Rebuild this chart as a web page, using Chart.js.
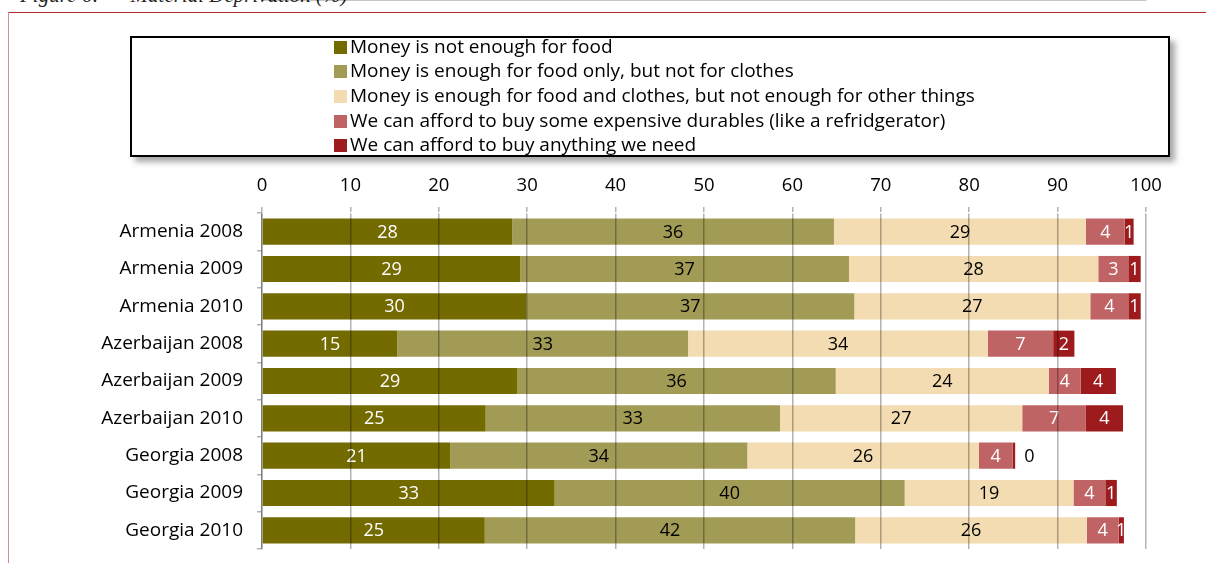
<!DOCTYPE html>
<html>
<head>
<meta charset="utf-8">
<script src="https://cdn.jsdelivr.net/npm/chart.js@4.4.1/dist/chart.umd.min.js"></script>
<style>
  body { margin: 0; width: 1206px; height: 563px; overflow: hidden; background: #fff; position: relative; font-family: "Open Sans", sans-serif; }
  #title { position: absolute; left: 20px; top: -17px; font: italic 21px "Liberation Serif", serif; color: #222; white-space: pre; }
  #frameTop { position: absolute; left: 8px; top: 12px; right: 0; border-top: 1.5px solid #b52a2c; }
  #frameLeft { position: absolute; left: 8px; top: 12px; bottom: 0; border-left: 1.5px solid #d58c8c; }
  #legend { position: absolute; left: 130px; top: 36px; width: 1036px; height: 117px; border: 2px solid #000; box-shadow: 5px 5px 6px rgba(0,0,0,.35); background: #fff; z-index: 2; }
  #legend div { position: absolute; left: 202px; height: 24px; line-height: 24px; font-size: 19px; color: #000; white-space: nowrap; }
  #legend span { display: inline-block; width: 13px; height: 13px; margin-right: 3px; vertical-align: -1px; }
  #chart { position: absolute; left: 0; top: 0; }
</style>
</head>
<body>
<div id="title">Figure 6:      Material Deprivation (%)</div>
<div id="frameTop"></div>
<div id="frameLeft"></div>
<div id="legend"></div>
<canvas id="chart" width="1206" height="563"></canvas>
<script>
const categories = ["Armenia 2008", "Armenia 2009", "Armenia 2010", "Azerbaijan 2008", "Azerbaijan 2009",
  "Azerbaijan 2010", "Georgia 2008", "Georgia 2009", "Georgia 2010"];

const seriesNames = [
  "Money is not enough for food",
  "Money is enough for food only, but not for clothes",
  "Money is enough for food and clothes, but not enough for other things",
  "We can afford to buy some expensive durables (like a refridgerator)",
  "We can afford to buy anything we need"
];

const notEnoughFood = [28.3, 29.2, 29.9, 15.3, 28.9, 25.3, 21.3, 33.1, 25.2];
const foodOnly = [36.4, 37.2, 37.1, 32.9, 36.0, 33.3, 33.6, 39.6, 41.9];
const foodAndClothes = [28.5, 28.2, 26.7, 33.9, 24.1, 27.4, 26.2, 19.1, 26.2];
const durables = [4.4, 3.4, 4.3, 7.4, 3.6, 7.2, 3.8, 3.6, 3.6];
const anything = [1.0, 1.4, 1.4, 2.4, 4.0, 4.2, 0.3, 1.3, 0.6];

const xTicks = [0, 10, 20, 30, 40, 50, 60, 70, 80, 90, 100];

const colors = ["#736a00", "#a29b56", "#f3dcb1", "#bf6365", "#9d1a1d"];
const labelColors = ["#fff", "#000", "#000", "#fff", "#fff"];
const allSeries = [notEnoughFood, foodOnly, foodAndClothes, durables, anything];

// legend box as html
const legend = document.getElementById("legend");
seriesNames.forEach((name, i) => {
  const row = document.createElement("div");
  row.style.top = (-4.5 + i * 24.7) + "px";
  row.innerHTML = `<span style="background:${colors[i]}"></span>${name}`;
  legend.appendChild(row);
});

const barLabels = {
  id: "barLabels",
  afterDatasetsDraw(chart) {
    const ctx = chart.ctx;
    ctx.save();
    ctx.font = '18px "Open Sans"';
    ctx.textBaseline = "middle";
    chart.data.datasets.forEach((ds, i) => {
      const meta = chart.getDatasetMeta(i);
      meta.data.forEach((bar, j) => {
        const v = ds.data[j];
        const txt = String(Math.round(v));
        if (v < 0.5) {
          ctx.fillStyle = "#000";
          ctx.textAlign = "left";
          ctx.fillText(txt, bar.x + 9, bar.y + 1);
        } else {
          ctx.fillStyle = labelColors[i];
          ctx.textAlign = "center";
          ctx.fillText(txt, (bar.x + bar.base) / 2, bar.y + 1);
        }
      });
    });
    ctx.restore();
  }
};

new Chart(document.getElementById("chart"), {
  type: "bar",
  data: {
    labels: categories,
    datasets: allSeries.map((d, i) => ({
      label: seriesNames[i],
      data: d,
      backgroundColor: colors[i],
      borderWidth: 0,
      barPercentage: 0.7,
      categoryPercentage: 1
    }))
  },
  options: {
    indexAxis: "y",
    responsive: false,
    animation: false,
    layout: { padding: { left: 0, top: 163, right: 60, bottom: 14 } },
    plugins: {
      legend: { display: false },
      tooltip: { enabled: false }
    },
    scales: {
      x: {
        position: "top",
        stacked: true,
        min: 0,
        max: 100,
        afterBuildTicks: s => { s.ticks = xTicks.map(v => ({ value: v })); },
        afterFit: s => { s.height = 50; },
        grid: { color: "rgba(0,0,0,0.3)", lineWidth: 1.5, tickLength: 6, z: 1 },
        border: { color: "rgba(0,0,0,0.3)", width: 1.5 },
        ticks: { color: "#000", padding: 10, font: { family: "Open Sans", size: 18.5 } }
      },
      y: {
        stacked: true,
        afterFit: s => { s.width = 262; s.paddingTop = 0; s.paddingBottom = 0; },
        grid: { drawOnChartArea: false, color: "rgba(0,0,0,0.3)", lineWidth: 1.5, tickLength: 5 },
        border: { color: "rgba(0,0,0,0.3)", width: 1.5 },
        ticks: { color: "#000", padding: 14, font: { family: "Open Sans", size: 19 } }
      }
    }
  },
  plugins: [barLabels]
});
</script>
</body>
</html>
